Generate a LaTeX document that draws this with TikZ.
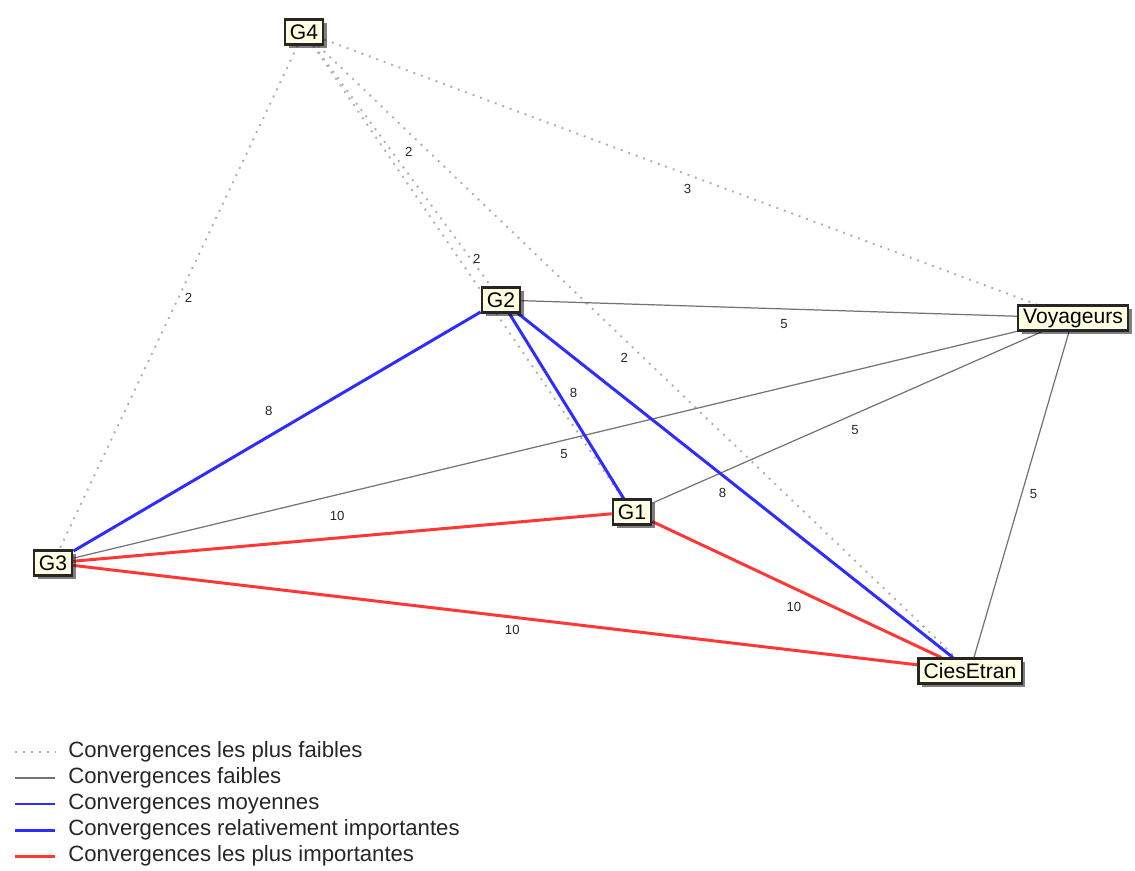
\documentclass[tikz,border=0pt]{standalone}
\usepackage{fontspec}
\setmainfont{Liberation Sans}
\usetikzlibrary{shadows,backgrounds}
\definecolor{cream}{RGB}{255,255,228}
\definecolor{netblue}{RGB}{45,45,255}
\definecolor{netred}{RGB}{255,55,55}
\definecolor{netgray}{RGB}{115,115,115}
\definecolor{netdot}{RGB}{175,175,175}
\tikzset{
  actor/.style={draw=black!85,line width=1.2pt,fill=cream,inner xsep=3pt,inner ysep=1pt,
    minimum height=0.5cm,font=\fontsize{12}{14}\selectfont,
    drop shadow={shadow xshift=2.2pt,shadow yshift=-2.2pt,fill=black,opacity=.5}},
  lbl/.style={font=\fontsize{7.5}{9}\selectfont,inner sep=0pt,text=black!85},
  faintest/.style={netdot,line width=1.1pt,dash pattern=on 1.1pt off 3.4pt},
  faint/.style={netgray,line width=.7pt},
  medium/.style={netblue,line width=.7pt},
  strong/.style={netblue,line width=1.7pt},
  strongest/.style={netred,line width=1.7pt},
  legtext/.style={anchor=west,inner sep=0pt,text=black!85,font=\fontsize{12.6}{14}\selectfont}
}

\begin{document}
\begin{tikzpicture}[x=0.02cm,y=-0.02cm]
  \useasboundingbox (0,0) rectangle (1135,870);
  \node[actor] (G4) at (304,32) {G4};
  \node[actor] (G2) at (501,300) {G2};
  \node[actor] (Voy) at (1073,318) {Voyageurs};
  \node[actor] (G3) at (53,563) {G3};
  \node[actor] (G1) at (632,512) {G1};
  \node[actor] (Cies) at (970,671) {CiesEtran};
  \begin{scope}[on background layer]
    \draw[faintest] (G4) -- node[lbl,pos=.5,shift={(10,0)}] {2} (G3);
    \draw[faintest] (G4) -- node[lbl,pos=.51,shift={(0,14)}] {3} (Voy);
    \draw[faintest] (G4) -- node[lbl,pos=.44,shift={(17,0)}] {2} (G2);
    \draw[faintest] (G4) -- node[lbl,pos=.47,shift={(18,0)}] {2} (G1);
    \draw[faintest] (G4) -- node[lbl,pos=.51,shift={(-19,0)}] {2} (Cies);
    \draw[faint] (G2) -- node[lbl,pos=.53,shift={(0,15)}] {5} (Voy);
    \draw[faint] (G3) -- node[lbl,pos=.52,shift={(0,14)}] {5} (Voy);
    \draw[faint] (G1) -- node[lbl,pos=.52,shift={(0,16)}] {5} (Voy);
    \draw[faint] (Voy) -- node[lbl,pos=.5,shift={(12,0)}] {5} (Cies);
    \draw[strong] (G3) -- node[lbl,pos=.48,shift={(0,-25)}] {8} (G2);
    \draw[strong] (G2) -- node[lbl,pos=.43,shift={(15,0)}] {8} (G1);
    \draw[strong] (G2) -- node[lbl,pos=.47,shift={(0,18)}] {8} (Cies);
    \draw[strongest] (G3) -- node[lbl,pos=.49,shift={(0,-22)}] {10} (G1);
    \draw[strongest] (G3) -- node[lbl,pos=.52,shift={(0,13)}] {10} (Cies);
    \draw[strongest] (G1) -- node[lbl,pos=.49,shift={(0,19)}] {10} (Cies);
  \end{scope}
  \foreach \y/\s/\t [count=\i] in {752/faintest/Convergences les plus faibles,
      778/faint/Convergences faibles,804/medium/Convergences moyennes,
      830/strong/Convergences relativement importantes,856/strongest/Convergences les plus importantes}{
    \draw[\s] (15,\y) -- (55,\y);
    \node[legtext] (leg\i) at (68,\y) {\t};
  }
\end{tikzpicture}
\end{document}
